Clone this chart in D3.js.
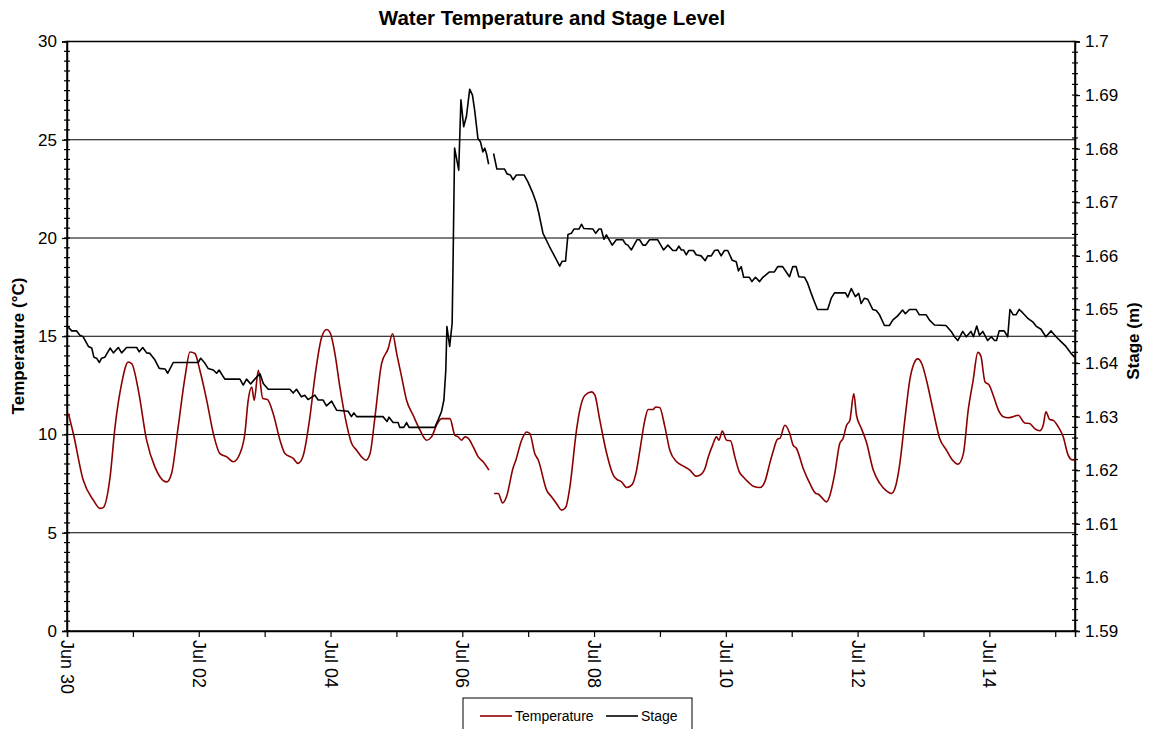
<!DOCTYPE html>
<html><head><meta charset="utf-8">
<script src="https://cdn.jsdelivr.net/npm/d3@7"></script>
<style>
body{margin:0;background:#fff}
svg{display:block}
text{font-family:"Liberation Sans",Arial,sans-serif;fill:#000}
</style>
</head><body>
<svg id="chart" width="1149" height="729"></svg>
<script>
// ---------- data ----------
const chartTitle = "Water Temperature and Stage Level";
const startDate = Date.UTC(2008, 5, 30, 0, 0);   // Jun 30 00:00
const endHour = 367.2;
const xTickLabels = ["Jun 30","Jul 02","Jul 04","Jul 06","Jul 08","Jul 10","Jul 12","Jul 14"];
const tempTicks = [0,5,10,15,20,25,30];
const stageTicks = [1.59,1.6,1.61,1.62,1.63,1.64,1.65,1.66,1.67,1.68,1.69,1.7];
const stageTickLabels = ["1.59","1.6","1.61","1.62","1.63","1.64","1.65","1.66","1.67","1.68","1.69","1.7"];
const seriesNames = ["Temperature","Stage"];

// hours since Jun 30 00:00
const tempHours = [0.5,2.3,5.9,9.6,12.0,13.2,15.7,17.5,19.9,22.3,23.6,26.0,29.0,32.0,33.9,36.3,38.1,40.5,43.0,44.8,46.6,48.4,50.9,53.3,55.7,58.2,60.6,63.0,64.8,66.0,67.3,68.2,69.7,71.3,73.0,75.1,77.6,79.4,82.4,84.2,86.0,88.5,90.3,92.8,94.6,95.8,97.6,99.4,101.3,103.7,105.5,107.3,108.9,110.4,112.2,114.6,117.0,118.6,120.1,121.9,123.7,126.1,128.6,131.0,132.8,134.6,136.5,139.5,141.3,142.5,143.7,145.0,146.2,148.0,149.8,151.6,153.7,154.6,155.6,157.1,158.7,160.1,162.5,163.5,165.6,167.4,168.6,170.4,171.7,174.7,176.5,178.3,180.2,181.7,183.2,185.6,186.8,188.7,191.1,192.3,194.1,196.6,199.0,200.2,202.0,203.9,205.7,207.5,208.7,210.5,211.7,213.5,214.4,215.9,217.8,219.6,222.1,224.5,226.9,229.1,230.5,232.4,233.6,235.2,236.6,237.5,238.7,240.3,241.7,243.3,244.9,246.3,248.1,250.0,252.4,254.2,256.0,257.2,258.8,259.7,261.5,263.3,264.5,265.7,268.2,270.6,272.8,273.6,274.9,276.7,277.9,279.7,281.5,282.7,284.0,285.2,286.6,287.6,289.4,291.2,293.7,296.1,298.5,300.3,301.6,303.4,305.2,307.0,308.5,309.9,311.4,313.1,315.5,317.9,320.4,322.6,324.6,326.5,328.3,330.1,331.8,332.9,334.4,336.0,337.4,339.3,341.1,342.8,344.6,346.5,348.9,350.7,352.5,354.4,355.6,356.6,358.0,359.2,361.1,362.9,364.7,366.0,367.1];
const tempValues = [11.07,10.05,7.68,6.66,6.24,6.28,7.84,10.39,12.59,13.69,13.6,12.25,9.71,8.35,7.84,7.59,8.02,10.39,12.93,14.2,14.12,13.27,11.74,10.05,9.03,8.86,8.61,9.03,10.05,11.74,12.42,11.74,13.27,11.83,11.78,11.07,9.71,9.03,8.78,8.53,8.9,10.9,12.93,14.96,15.34,15.2,14.12,12.42,10.9,9.54,9.2,8.86,8.69,9.03,10.9,13.61,14.37,15.13,14.12,12.93,11.74,10.98,10.22,9.71,9.88,10.47,10.81,10.81,9.96,9.88,9.71,9.88,9.8,9.37,8.86,8.61,8.19,null,7.0,7.0,6.52,6.83,8.3,8.69,9.71,10.13,10.05,9.03,8.69,7.17,6.83,6.49,6.15,6.3,7.34,10.22,11.24,12.0,12.17,12.0,10.73,9.03,7.93,7.73,7.59,7.3,7.42,8.19,9.2,10.73,11.27,11.27,11.4,11.37,10.39,9.2,8.61,8.39,8.19,7.88,7.93,8.27,8.86,9.46,9.88,9.71,10.17,9.71,9.68,8.86,8.1,7.85,7.59,7.37,7.3,7.59,8.53,9.12,9.76,9.8,10.47,10.05,9.46,9.3,8.27,7.51,7.0,6.97,6.8,6.57,6.9,8.02,9.54,9.8,10.47,10.73,12.08,10.98,10.3,9.62,8.19,7.51,7.13,7.0,7.25,8.53,10.73,12.76,13.6,13.85,13.6,12.76,11.24,9.8,9.2,8.69,8.49,9.0,11.24,12.76,14.18,14.0,12.68,12.5,12.0,11.24,10.9,10.85,10.9,10.98,10.59,10.56,10.3,10.19,10.47,11.15,10.76,10.73,10.39,9.88,8.95,8.72,8.7];

const stageHours = [0.1,1.7,3.5,4.7,5.9,7.8,9.0,9.8,10.8,11.8,12.6,13.8,15.7,16.9,18.7,19.9,21.7,25.4,26.3,27.6,29.0,30.2,32.0,33.6,35.7,36.7,38.7,47.8,48.7,50.2,51.4,53.3,54.5,55.4,57.5,63.0,64.2,65.4,66.9,68.4,70.3,71.5,73.3,81.2,82.4,83.6,85.4,86.6,87.8,88.5,90.3,91.5,93.3,94.5,96.4,98.2,102.4,103.6,104.5,105.5,115.1,116.6,117.3,118.8,120.6,121.2,122.7,123.7,124.6,134.0,135.2,136.4,137.3,138.0,138.4,139.4,140.3,140.6,141.2,141.9,142.7,143.5,144.5,145.5,146.7,147.7,148.5,149.7,150.6,151.5,152.2,152.8,153.6,154.5,155.4,156.6,159.4,160.3,161.5,162.5,163.7,166.5,167.9,169.7,171.0,171.9,173.4,175.8,179.5,180.4,181.6,182.5,183.7,184.7,186.5,187.4,188.3,191.6,192.6,193.8,194.6,195.6,196.5,198.6,200.1,202.5,203.5,204.3,205.6,207.6,208.6,209.8,210.8,212.2,215.2,217.3,218.9,220.7,221.9,222.9,223.8,224.6,225.6,226.5,228.2,229.2,231.0,232.5,233.4,234.7,235.9,237.1,238.3,239.5,240.7,242.3,243.8,244.6,245.6,246.5,248.6,249.5,250.8,252.3,253.5,255.9,257.7,258.9,260.7,262.0,263.2,264.4,265.6,266.6,268.7,269.8,271.1,272.3,273.4,277.1,278.4,279.6,283.6,284.4,285.7,287.2,288.4,289.3,290.5,291.7,293.5,294.8,296.0,297.8,299.6,300.8,302.6,304.4,305.4,306.9,309.3,310.5,313.0,314.2,316.0,320.2,322.1,323.3,324.5,326.3,327.6,329.3,330.2,331.4,332.4,333.6,335.4,336.7,337.9,338.6,339.6,341.4,342.7,343.5,344.7,345.7,346.9,348.1,349.9,351.8,353.0,354.8,356.6,358.5,360.3,362.1,363.9,365.8,367.0];
const stageValues = [1.6469,1.6460,1.6460,1.6452,1.6449,1.6431,1.6428,1.6411,1.6409,1.6401,1.6409,1.6411,1.6428,1.6419,1.6429,1.6419,1.6429,1.6429,1.6421,1.6429,1.6419,1.6418,1.6406,1.6390,1.6389,1.6381,1.6401,1.6401,1.6409,1.6400,1.6390,1.6387,1.6381,1.6387,1.6370,1.6370,1.6359,1.6370,1.6361,1.6370,1.6380,1.6362,1.6351,1.6351,1.6344,1.6351,1.6337,1.6340,1.6332,1.6334,1.6340,1.6331,1.6331,1.6320,1.6329,1.6312,1.6310,1.6300,1.6307,1.6300,1.6300,1.6291,1.6299,1.6289,1.6289,1.6280,1.6280,1.6289,1.6280,1.6280,1.6294,1.6309,1.6331,1.6387,1.6468,1.6431,1.6474,1.6574,1.6801,1.6782,1.6760,1.6891,1.6841,1.6860,1.6911,1.6900,1.6872,1.6819,1.6813,1.6794,1.6801,1.6791,1.6771,null,1.6791,1.6762,1.6762,1.6753,1.6751,1.6742,1.6751,1.6751,1.6738,1.6717,1.6698,1.6679,1.6642,1.6617,1.6581,1.6590,1.6590,1.6640,1.6642,1.6650,1.6650,1.6659,1.6651,1.6650,1.6642,1.6650,1.6650,1.6631,1.6639,1.6620,1.6630,1.6630,1.6622,1.6620,1.6611,1.6630,1.6630,1.6620,1.6620,1.6630,1.6630,1.6611,1.6620,1.6610,1.6610,1.6618,1.6611,1.6611,1.6602,1.6610,1.6610,1.6602,1.6600,1.6591,1.6600,1.6600,1.6610,1.6611,1.6600,1.6610,1.6610,1.6592,1.6589,1.6572,1.6580,1.6560,1.6560,1.6552,1.6560,1.6552,1.6560,1.6570,1.6570,1.6580,1.6580,1.6570,1.6561,1.6580,1.6580,1.6561,1.6560,1.6549,1.6530,1.6514,1.6500,1.6500,1.6521,1.6531,1.6531,1.6523,1.6539,1.6524,1.6530,1.6511,1.6521,1.6519,1.6500,1.6498,1.6490,1.6470,1.6470,1.6480,1.6488,1.6499,1.6492,1.6500,1.6500,1.6490,1.6490,1.6480,1.6471,1.6470,1.6459,1.6449,1.6442,1.6459,1.6449,1.6459,1.6449,1.6469,1.6452,1.6459,1.6442,1.6449,1.6442,1.6442,1.6460,1.6460,1.6449,1.6500,1.6490,1.6490,1.6500,1.6494,1.6484,1.6477,1.6469,1.6463,1.6449,1.6460,1.6449,1.6440,1.6431,1.6418,1.6411];

// ---------- chart ----------
const svg = d3.select("#chart");
const L = 67, R = 1075, T = 41.5, B = 631;
const hourToDate = h => new Date(startDate + h * 3600e3);

const x = d3.scaleUtc().domain([hourToDate(0), hourToDate(endHour)]).range([L, R]);
const yT = d3.scaleLinear().domain([0, 30]).range([B, T]);
const yS = d3.scaleLinear().domain([1.59, 1.7]).range([B, T]);

// gridlines
svg.append("g").selectAll("line").data(tempTicks.filter(v => v > 0 && v < 30)).join("line")
  .attr("x1", L).attr("x2", R).attr("y1", d => yT(d)).attr("y2", d => yT(d))
  .attr("stroke", "#000").attr("stroke-width", 1);

// plot box
svg.append("rect").attr("x", L).attr("y", T).attr("width", R - L).attr("height", B - T)
  .attr("fill", "none").attr("stroke", "#000").attr("stroke-width", 1.5);

// left axis minor ticks
const minorT = d3.range(0, 30.001, 0.5);
svg.append("g").selectAll("line").data(minorT).join("line")
  .attr("x1", L - 3).attr("x2", L + 3).attr("y1", d => yT(d)).attr("y2", d => yT(d))
  .attr("stroke", "#000").attr("stroke-width", 1.2);
// left axis major
const axL = d3.axisLeft(yT).tickValues(tempTicks).tickSize(5).tickPadding(5).tickFormat(d3.format("d"));
const gL = svg.append("g").attr("transform", `translate(${L},0)`).call(axL);
gL.select(".domain").attr("stroke-width", 1.5);
gL.selectAll(".tick line").attr("stroke-width", 1.2);
gL.selectAll("text").attr("font-size", 17).attr("font-family", "Liberation Sans, Arial, sans-serif");

// right axis minor ticks
const minorS = d3.range(0, 56).map(i => 1.59 + i * 0.002);
svg.append("g").selectAll("line").data(minorS).join("line")
  .attr("x1", R - 3).attr("x2", R + 3).attr("y1", d => yS(d)).attr("y2", d => yS(d))
  .attr("stroke", "#000").attr("stroke-width", 1.2);
const axR = d3.axisRight(yS).tickValues(stageTicks).tickSize(5).tickPadding(5)
  .tickFormat((d, i) => stageTickLabels[i]);
const gR = svg.append("g").attr("transform", `translate(${R},0)`).call(axR);
gR.select(".domain").attr("stroke-width", 1.5);
gR.selectAll(".tick line").attr("stroke-width", 1.2);
gR.selectAll("text").attr("font-size", 17).attr("font-family", "Liberation Sans, Arial, sans-serif");

// x axis
const dayTicks = d3.range(0, 16).map(d => hourToDate(d * 24));
const axBm = d3.axisBottom(x).tickValues(dayTicks).tickSize(6).tickFormat("");
const gB = svg.append("g").attr("transform", `translate(0,${B})`).call(axBm);
gB.select(".domain").attr("stroke-width", 1.5);
gB.selectAll(".tick line").attr("stroke-width", 1.2);
const labelDates = xTickLabels.map((s, i) => hourToDate(i * 48));
svg.append("g").selectAll("text").data(labelDates).join("text")
  .attr("transform", d => `translate(${x(d)},${B + 9}) rotate(90)`)
  .attr("dominant-baseline", "central")
  .attr("font-size", 18)
  .text((d, i) => xTickLabels[i]);

// lines
const tempData = tempHours.map((h, i) => ({ t: hourToDate(h), v: tempValues[i] }));
const stageData = stageHours.map((h, i) => ({ t: hourToDate(h), v: stageValues[i] }));
const lineT = d3.line().defined(d => d.v !== null).curve(d3.curveMonotoneX).x(d => x(d.t)).y(d => yT(d.v));
const lineS = d3.line().defined(d => d.v !== null).x(d => x(d.t)).y(d => yS(d.v));
svg.append("path").datum(tempData).attr("d", lineT).attr("fill", "none")
  .attr("stroke", "#8b0000").attr("stroke-width", 1.6).attr("stroke-linejoin", "round");
svg.append("path").datum(stageData).attr("d", lineS).attr("fill", "none")
  .attr("stroke", "#000").attr("stroke-width", 1.6).attr("stroke-linejoin", "round");

// titles
svg.append("text").attr("x", 552).attr("y", 25).attr("text-anchor", "middle")
  .attr("font-size", 20.5).attr("font-weight", "bold").text(chartTitle);
svg.append("text").attr("transform", `translate(24,346) rotate(-90)`)
  .attr("text-anchor", "middle").attr("font-size", 17).attr("font-weight", "bold").text("Temperature (°C)");
svg.append("text").attr("transform", `translate(1139,341) rotate(-90)`)
  .attr("text-anchor", "middle").attr("font-size", 17).attr("font-weight", "bold").text("Stage (m)");

// legend
const lg = svg.append("g");
lg.append("rect").attr("x", 463).attr("y", 698).attr("width", 229).attr("height", 40)
  .attr("fill", "#fff").attr("stroke", "#000").attr("stroke-width", 1);
const legendColors = ["#8b0000", "#000"];
const legendX = [480, 606];
seriesNames.forEach((name, i) => {
  lg.append("line").attr("x1", legendX[i]).attr("x2", legendX[i] + 32).attr("y1", 716).attr("y2", 716)
    .attr("stroke", legendColors[i]).attr("stroke-width", 1.6);
  lg.append("text").attr("x", legendX[i] + 35).attr("y", 716).attr("dominant-baseline", "central")
    .attr("font-size", 14).text(name);
});
</script>
</body></html>
